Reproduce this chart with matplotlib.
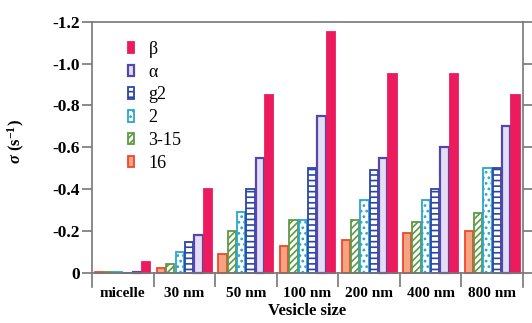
import matplotlib.pyplot as plt
import numpy as np

plt.rcParams['font.family'] = ['Liberation Serif', 'DejaVu Serif']
plt.rcParams['mathtext.fontset'] = 'custom'
plt.rcParams['mathtext.rm'] = 'Liberation Serif:bold'
plt.rcParams['mathtext.it'] = 'Liberation Serif:bold:italic'
plt.rcParams['hatch.linewidth'] = 1.2

# data
categories = ['micelle', '30 nm', '50 nm', '100 nm', '200 nm', '400 nm', '800 nm']
series = ['16', '3-15', '2', 'g2', 'α', 'β']
values = {
    '16':   [-0.003, -0.022, -0.09, -0.127, -0.154, -0.19, -0.20],
    '3-15': [-0.003, -0.043, -0.20, -0.25, -0.25, -0.244, -0.284],
    '2':    [-0.003, -0.10, -0.29, -0.25, -0.348, -0.348, -0.50],
    'g2':   [0.0, -0.145, -0.40, -0.50, -0.49, -0.40, -0.50],
    'α':    [-0.003, -0.18, -0.55, -0.75, -0.55, -0.60, -0.70],
    'β':    [-0.05, -0.40, -0.85, -1.15, -0.95, -0.95, -0.85],
}
yticks = [-1.2, -1.0, -0.8, -0.6, -0.4, -0.2, 0]
ytick_labels = ['-1.2', '-1.0', '-0.8', '-0.6', '-0.4', '-0.2', '0']

styles = {
    '16':   dict(facecolor='#f6a383', edgecolor='#f0472a', hatch=None),
    '3-15': dict(facecolor='white', edgecolor='#5d9a42', hatch='/////'),
    '2':    dict(facecolor='white', edgecolor='#2aa6cf', hatch='...'),
    'g2':   dict(facecolor='white', edgecolor='#2b46a6', hatch='---'),
    'α':    dict(facecolor='#e4def5', edgecolor='#5646a8', hatch=None),
    'β':    dict(facecolor='#ec1b5e', edgecolor='#ec1b5e', hatch=None),
}

fig = plt.figure(figsize=(5.32, 3.23), dpi=100)
ax = fig.add_axes([0.173, 0.111, 0.81, 0.821])

x = np.arange(len(categories))
step = 0.152
width = 0.135
handles = {}
for j, name in enumerate(series):
    st = styles[name]
    b = ax.bar(x + (j - 2.5) * step, values[name], width, facecolor=st['facecolor'],
               edgecolor=st['edgecolor'], hatch=st['hatch'],
               linewidth=1.6 if name == 'α' else 1.3, label=name)
    handles[name] = b

ax.set_xlim(-0.5, len(categories) - 0.5)
ax.set_ylim(0.07, -1.2)

# zero line and group separators
ax.axhline(0, color='#777777', lw=1.2)
for s in np.arange(0.5, len(categories) - 1, 1.0):
    ax.plot([s, s], [0, 0.07], color='#777777', lw=1.2)

for side in ['left', 'right', 'top']:
    ax.spines[side].set_color('#777777')
    ax.spines[side].set_linewidth(1.2)
ax.spines['bottom'].set_visible(False)

ax.set_yticks(yticks)
ax.set_yticklabels(ytick_labels, fontsize=12.5, fontweight='bold')
ax.tick_params(axis='y', direction='out', length=7, width=1.2, color='#777777',
               right=True, pad=2)
ax.set_xticks(x)
ax.set_xticklabels(categories, fontsize=11, fontweight='bold')
ax.tick_params(axis='x', length=0, pad=0)

ax.set_ylabel(r'$\sigma$ (s$^{-1}$)', fontsize=12, fontweight='bold')
ax.yaxis.set_label_coords(-0.15, 0.55)
ax.set_xlabel('Vesicle size', fontsize=12, fontweight='bold', labelpad=2)

leg_order = ['β', 'α', 'g2', '2', '3-15', '16']
ax.legend([handles[n] for n in leg_order], leg_order, loc='upper left',
          bbox_to_anchor=(0.045, 0.99), frameon=False, fontsize=13,
          handlelength=0.35, handleheight=0.6, handletextpad=0.8, labelspacing=0.32)

fig.savefig('out.png', dpi=100)
